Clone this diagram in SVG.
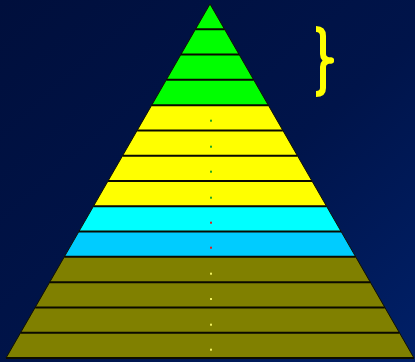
<svg xmlns="http://www.w3.org/2000/svg" width="415" height="362" viewBox="0 0 415 362">
<defs>
<linearGradient id="bg" x1="0" y1="0" x2="1" y2="1">
<stop offset="0" stop-color="#000f3c"/>
<stop offset="0.55" stop-color="#00144a"/>
<stop offset="1" stop-color="#002068"/>
</linearGradient>
<style>
.g{fill:#00ff00}.y{fill:#ffff00}.c1{fill:#00ffff}.c2{fill:#00ccff}.o{fill:#808000}
.sep{stroke:#0a0a00;stroke-width:2;fill:none}
.dg{fill:#22a822}.dr{fill:#e02020}.dy{fill:#f0f060}
</style>
</defs>
<rect width="415" height="362" fill="url(#bg)"/>
<g id="band1"><polygon class="g" points="210,4 224.57,29.29 195.43,29.29"/></g>
<g id="band2"><polygon class="g" points="195.43,29.29 224.57,29.29 239.14,54.57 180.86,54.57"/></g>
<g id="band3"><polygon class="g" points="180.86,54.57 239.14,54.57 253.71,79.86 166.29,79.86"/></g>
<g id="band4"><polygon class="g" points="166.29,79.86 253.71,79.86 268.29,105.14 151.71,105.14"/></g>
<g id="band5"><polygon class="y" points="151.71,105.14 268.29,105.14 282.86,130.43 137.14,130.43"/><rect class="dg" x="210" y="119.7" width="2" height="2"/></g>
<g id="band6"><polygon class="y" points="137.14,130.43 282.86,130.43 297.43,155.71 122.57,155.71"/><rect class="dg" x="210" y="145.7" width="2" height="2"/></g>
<g id="band7"><polygon class="y" points="122.57,155.71 297.43,155.71 312,181 108,181"/><rect class="dg" x="210" y="170.7" width="2" height="2"/></g>
<g id="band8"><polygon class="y" points="108,181 312,181 326.57,206.29 93.43,206.29"/><rect class="dg" x="210" y="196.7" width="2" height="2"/></g>
<g id="band9"><polygon class="c1" points="93.43,206.29 326.57,206.29 341.14,231.57 78.86,231.57"/><rect class="dr" x="210" y="221.7" width="2" height="2"/></g>
<g id="band10"><polygon class="c2" points="78.86,231.57 341.14,231.57 355.71,256.86 64.29,256.86"/><rect class="dr" x="210" y="246.7" width="2" height="2"/></g>
<g id="band11"><polygon class="o" points="64.29,256.86 355.71,256.86 370.29,282.14 49.71,282.14"/><rect class="dy" x="210" y="272.7" width="2" height="2"/></g>
<g id="band12"><polygon class="o" points="49.71,282.14 370.29,282.14 384.86,307.43 35.14,307.43"/><rect class="dy" x="210" y="298" width="2" height="2"/></g>
<g id="band13"><polygon class="o" points="35.14,307.43 384.86,307.43 399.43,332.71 20.57,332.71"/><rect class="dy" x="210" y="323.7" width="2" height="2"/></g>
<g id="band14"><polygon class="o" points="20.57,332.71 399.43,332.71 414,358 6,358"/><rect class="dy" x="210" y="348.7" width="2" height="2"/></g>
<g id="connectors">
<path class="sep" d="M195.43,29.29H224.57M180.86,54.57H239.14M166.29,79.86H253.71M151.71,105.14H268.29M137.14,130.43H282.86M122.57,155.71H297.43M108,181H312M93.43,206.29H326.57M78.86,231.57H341.14M64.29,256.86H355.71M49.71,282.14H370.29M35.14,307.43H384.86M20.57,332.71H399.43M6,358H414"/>
<polygon points="210,4 414,358 6,358" fill="none" stroke="#101000" stroke-width="1"/>
</g>
<g id="brace">
<path d="M316,29 Q323,29 323,36 L323,54 Q323,60 331,60.5 Q323,61 323,67 L323,88 Q323,94 316,94" fill="none" stroke="#ffff00" stroke-width="6" stroke-linejoin="round"/>
<ellipse cx="331" cy="60.5" rx="3" ry="3" fill="#ffff00"/>
</g>
</svg>
